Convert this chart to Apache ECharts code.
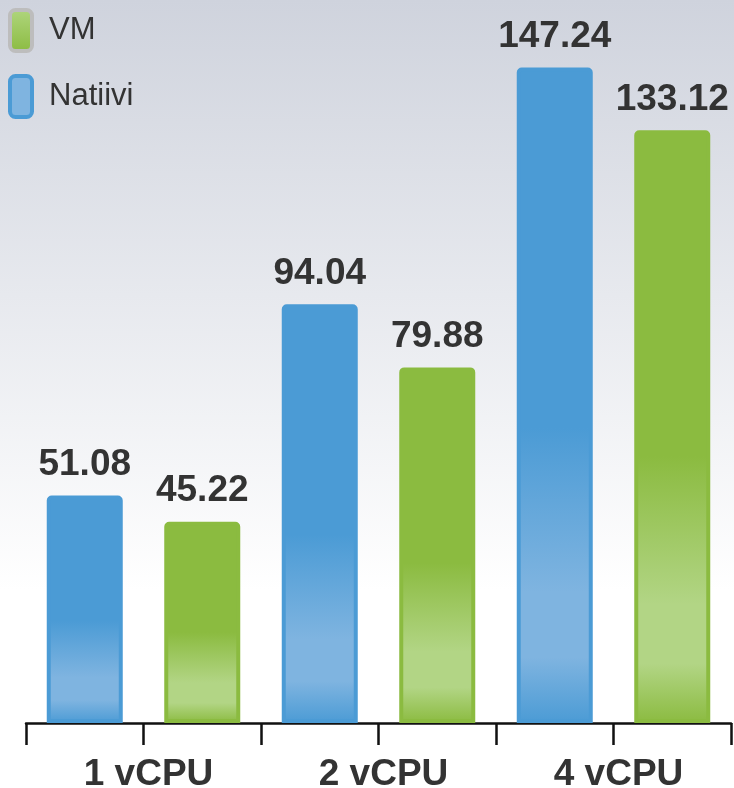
<!DOCTYPE html>
<html>
<head>
<meta charset="utf-8">
<script src="https://cdn.jsdelivr.net/npm/echarts@6/dist/echarts.min.js"></script>
<style>
  html, body { margin: 0; padding: 0; }
  #main { width: 734px; height: 788px; }
</style>
</head>
<body>
<div id="main"></div>
<script>
var groups = ['1 vCPU', '2 vCPU', '4 vCPU'];
var slots = ['n1', 'v1', 'n2', 'v2', 'n4', 'v4'];
var nativeValues = [51.08, 94.04, 147.24];
var vmValues = [45.22, 79.88, 133.12];

(function () {
    'use strict';

    var myChart = echarts.init(document.getElementById('main'));

    function barFill(base, light) {
        return new echarts.graphic.LinearGradient(0, 0, 0, 1, [
            { offset: 0, color: base },
            { offset: 0.55, color: base },
            { offset: 0.8, color: light },
            { offset: 0.9, color: light },
            { offset: 1, color: base }
        ]);
    }

    // each bar sits in its own slot, group labels sit on the boundaries
    var nativeData = [];
    var vmData = [];
    groups.forEach(function (g, i) {
        nativeData.push(nativeValues[i], '-');
        vmData.push('-', vmValues[i]);
    });

    var labelStyle = {
        show: true,
        position: 'top',
        distance: 12,
        fontSize: 37,
        fontWeight: 'bold',
        color: '#333333',
        fontFamily: 'Liberation Sans, Arial, sans-serif'
    };

    var option = {
        animation: false,
        backgroundColor: new echarts.graphic.LinearGradient(0, 0, 0, 1, [
            { offset: 0, color: '#cfd3dd' },
            { offset: 0.75, color: '#ffffff' },
            { offset: 1, color: '#ffffff' }
        ]),
        legend: {
            orient: 'vertical',
            left: 3,
            top: 3,
            itemWidth: 22,
            itemHeight: 41,
            itemGap: 21,
            data: [
                {
                    name: 'VM',
                    itemStyle: {
                        color: new echarts.graphic.LinearGradient(0, 0, 0, 1, [
                            { offset: 0, color: '#b0d67f' },
                            { offset: 1, color: '#8bbb40' }
                        ]),
                        borderColor: '#bdbdbd',
                        borderWidth: 4
                    }
                },
                {
                    name: 'Natiivi',
                    itemStyle: {
                        color: '#7fb4e0',
                        borderColor: '#4b9bd5',
                        borderWidth: 4
                    }
                }
            ],
            textStyle: {
                fontSize: 31,
                color: '#333333',
                fontFamily: 'Liberation Sans, Arial, sans-serif',
                padding: [0, 0, 0, 12]
            }
        },
        grid: {
            left: 26,
            right: 3,
            top: 0,
            bottom: 65,
            outerBoundsMode: 'none',
            containLabel: false
        },
        xAxis: [
            {
                type: 'category',
                data: slots,
                position: 'bottom',
                boundaryGap: true,
                axisLine: { show: true, lineStyle: { color: '#111111', width: 2.5 } },
                axisTick: { show: true, interval: 0, length: 22, lineStyle: { color: '#111111', width: 2.5 } },
                axisLabel: { show: false, interval: 0 }
            },
            {
                type: 'category',
                data: groups,
                position: 'bottom',
                axisLine: { show: false },
                axisTick: { show: false },
                axisLabel: {
                    margin: 33,
                    fontSize: 37,
                    fontWeight: 'bold',
                    color: '#333333',
                    padding: [0, 0, 0, 10],
                    fontFamily: 'Liberation Sans, Arial, sans-serif'
                }
            }
        ],
        yAxis: {
            type: 'value',
            min: 0,
            max: 162.4,
            show: false
        },
        series: [
            {
                name: 'Natiivi',
                type: 'bar',
                xAxisIndex: 0,
                data: nativeData,
                barWidth: 76,
                barGap: '-100%',
                itemStyle: {
                    color: barFill('#4b9bd5', '#7fb4e0'),
                    borderColor: '#4b9bd5',
                    borderWidth: 4,
                    borderRadius: [3, 3, 0, 0]
                },
                label: labelStyle
            },
            {
                name: 'VM',
                type: 'bar',
                xAxisIndex: 0,
                data: vmData,
                barWidth: 76,
                barGap: '-100%',
                itemStyle: {
                    color: barFill('#8bbb40', '#b2d585'),
                    borderColor: '#8bbb40',
                    borderWidth: 4,
                    borderRadius: [3, 3, 0, 0]
                },
                label: labelStyle
            }
        ]
    };

    myChart.setOption(option);
})();
</script>
</body>
</html>
